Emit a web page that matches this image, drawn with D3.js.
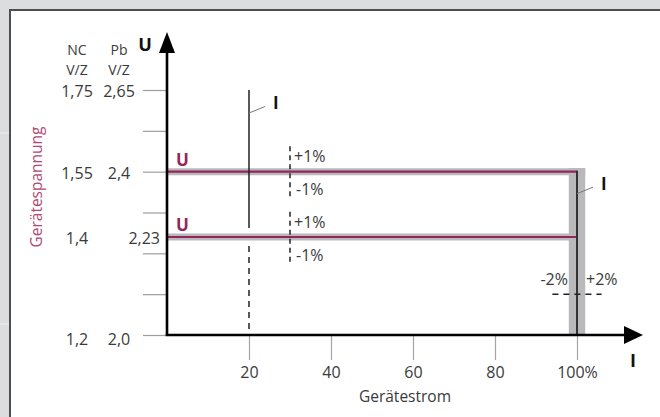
<!DOCTYPE html>
<html>
<head>
<meta charset="utf-8">
<script src="https://cdn.jsdelivr.net/npm/d3@7"></script>
<style>
  html, body { margin: 0; padding: 0; background: #dcdddf; }
  svg { display: block; }
  text { font-family: "Open Sans", "Noto Sans", sans-serif; }
</style>
</head>
<body>
<svg id="chart" width="660" height="417"></svg>
<script>
// ---------- data ----------
const xTicks = [20, 40, 60, 80, 100];
const xTickLabels = ["20", "40", "60", "80", "100%"];
const yLevels = [0, 1, 2, 3, 4, 5, 6];          // voltage tick rows
const ncLabels = ["1,2", "1,4", "1,55", "1,75"];  // NC  V/Z
const pbLabels = ["2,0", "2,23", "2,4", "2,65"];  // Pb  V/Z
const labelLevels = [0, 2.4, 4, 6];
const uLevels = [4, 2.4];                         // two charging voltages U
const uTolPlus = ["+1%", "+1%"];
const uTolMinus = ["-1%", "-1%"];
const uTolSpan = 0.62;                            // level span of ±1% marker
const uTolX = 30;                                 // % current where ±1% marker sits
const iRated = 100;                               // rated current
const iTolerance = 2;                             // ±2 %
const iTolLevel = 1;
const iTolSpan = [94, 106];
const iLine = { x: 20, solidTop: 6, solidBottom: 2.62, dashTop: 2.18 };

// ---------- setup ----------
const W = 660, H = 417;
const svg = d3.select("#chart");
const x = d3.scaleLinear().domain([0, 100]).range([167, 577]);
const y = d3.scaleLinear().domain([0, 6]).range([335, 90]);
const textCol = "#3a3a3a";
const crimson = "#93265a";
const band = "#b9b9bc";

// frame
svg.append("rect").attr("x", 0).attr("y", 0).attr("width", W).attr("height", H).attr("fill", "#dcdddf");
svg.append("line").attr("x1", 0).attr("x2", 10).attr("y1", 133).attr("y2", 133).attr("stroke", "#eeeeef").attr("stroke-width", 1);
svg.append("line").attr("x1", 0).attr("x2", 10).attr("y1", 324).attr("y2", 324).attr("stroke", "#eeeeef").attr("stroke-width", 1);
svg.append("rect").attr("x", 10).attr("y", 10).attr("width", W - 10).attr("height", H - 10).attr("fill", "#ffffff");
svg.append("path").attr("d", `M10,${H}V10H${W}`).attr("fill", "none").attr("stroke", "#4d4d4f").attr("stroke-width", 2);

const g = svg.append("g");

// y ticks (gray, to the left of axis)
const yAxis = d3.axisLeft(y).tickValues(yLevels).tickSizeInner(24).tickSizeOuter(0).tickFormat("");
const yg = g.append("g").attr("transform", `translate(${x(0)},0)`).call(yAxis);
yg.select(".domain").remove();
yg.selectAll(".tick line").attr("stroke", "#9d9d9d").attr("stroke-width", 1.2);

// x ticks (gray, below axis)
const xAxis = d3.axisBottom(x).tickValues(xTicks).tickSizeInner(25).tickSizeOuter(0)
  .tickFormat((d, i) => xTickLabels[i]);
const xg = g.append("g").attr("transform", `translate(0,${y(0)})`).call(xAxis);
xg.select(".domain").remove();
xg.selectAll(".tick line").attr("stroke", "#a5a5a5").attr("stroke-width", 1.2);
xg.selectAll(".tick text").attr("y", 32).attr("dy", "0.71em")
  .attr("fill", textCol).style("font-size", "16px").style("font-family", '"Open Sans", sans-serif');

// vertical tolerance band ±2% around rated current
g.append("rect")
  .attr("x", x(iRated - iTolerance)).attr("width", x(iRated + iTolerance) - x(iRated - iTolerance))
  .attr("y", y(uLevels[0]) - 3.5).attr("height", y(0) - y(uLevels[0]) + 3.5)
  .attr("fill", band);

// horizontal U lines: gray band + crimson core
uLevels.forEach((u, i) => {
  g.append("line").attr("x1", x(0)).attr("x2", x(iRated + (i === 0 ? iTolerance : 0)))
    .attr("y1", y(u)).attr("y2", y(u)).attr("stroke", band).attr("stroke-width", 7);
});
uLevels.forEach(u => {
  g.append("line").attr("x1", x(0)).attr("x2", x(iRated))
    .attr("y1", y(u)).attr("y2", y(u)).attr("stroke", crimson).attr("stroke-width", 2.2);
  g.append("text").attr("x", x(0) + 9).attr("y", y(u) - 6)
    .attr("fill", crimson).style("font-size", "17px").style("font-weight", "bold").text("U");
});

// vertical rated-current line
g.append("line").attr("x1", x(iRated)).attr("x2", x(iRated))
  .attr("y1", y(uLevels[0]) - 1).attr("y2", y(0))
  .attr("stroke", "#333336").attr("stroke-width", 2);

// ±2% dashed marker
g.append("line").attr("x1", x(iTolSpan[0])).attr("x2", x(iTolSpan[1]))
  .attr("y1", y(iTolLevel)).attr("y2", y(iTolLevel))
  .attr("stroke", "#222").attr("stroke-width", 1.5).attr("stroke-dasharray", "6,5");
g.append("text").attr("x", x(iRated) - 9).attr("y", y(iTolLevel) - 15).attr("dy", "0.35em")
  .attr("text-anchor", "end").attr("fill", textCol).style("font-size", "16px").text("-2%");
g.append("text").attr("x", x(iRated) + 9).attr("y", y(iTolLevel) - 15).attr("dy", "0.35em")
  .attr("text-anchor", "start").attr("fill", textCol).style("font-size", "16px").text("+2%");

// ±1% dashed markers
uLevels.forEach((u, i) => {
  g.append("line").attr("x1", x(uTolX)).attr("x2", x(uTolX))
    .attr("y1", y(u + uTolSpan)).attr("y2", y(u - uTolSpan))
    .attr("stroke", "#222").attr("stroke-width", 1.5).attr("stroke-dasharray", "5,4");
  g.append("text").attr("x", x(uTolX) + 4).attr("y", y(u) - 15).attr("dy", "0.35em")
    .attr("fill", textCol).style("font-size", "16px").text(uTolPlus[i]);
  g.append("text").attr("x", x(uTolX) + 6).attr("y", y(u) + 18).attr("dy", "0.35em")
    .attr("fill", textCol).style("font-size", "16px").text(uTolMinus[i]);
});

// 20% current line
g.append("line").attr("x1", x(iLine.x)).attr("x2", x(iLine.x))
  .attr("y1", y(iLine.solidTop)).attr("y2", y(iLine.solidBottom))
  .attr("stroke", "#222").attr("stroke-width", 1.5);
g.append("line").attr("x1", x(iLine.x)).attr("x2", x(iLine.x))
  .attr("y1", y(iLine.dashTop)).attr("y2", y(0))
  .attr("stroke", "#222").attr("stroke-width", 1.5).attr("stroke-dasharray", "6,5");

// "I" callouts with leader lines
function callout(px, py) {
  g.append("line").attr("x1", px).attr("y1", py).attr("x2", px + 16).attr("y2", py - 6.5)
    .attr("stroke", "#777").attr("stroke-width", 1);
  g.append("text").attr("x", px + 24).attr("y", py - 10).attr("dy", "0.35em")
    .attr("fill", "#111").style("font-size", "17px").style("font-weight", "bold").text("I");
}
callout(x(iLine.x), y(iLine.solidTop) + 23);
callout(x(iRated), y(uLevels[0]) + 22);

// main axes (black, with arrowheads)
const ax = g.append("g");
ax.append("path").attr("d", `M${x(0)},${y(0)}V48`).attr("stroke", "#000").attr("stroke-width", 2.6).attr("fill", "none");
ax.append("path").attr("d", `M${x(0) - 1.3},${y(0)}H628`).attr("stroke", "#000").attr("stroke-width", 2.6).attr("fill", "none");
ax.append("path").attr("d", `M${x(0)},32L${x(0) + 8},53L${x(0) - 8},53Z`).attr("fill", "#000");
ax.append("path").attr("d", `M643,${y(0)}L624,${y(0) - 9}L624,${y(0) + 9}Z`).attr("fill", "#000");

// axis letters
g.append("text").attr("x", 145).attr("y", 45).attr("dy", "0.35em").attr("text-anchor", "middle")
  .attr("fill", "#111").style("font-size", "18px").style("font-weight", "bold").text("U");
g.append("text").attr("x", 633).attr("y", 361).attr("dy", "0.35em").attr("text-anchor", "middle")
  .attr("fill", "#111").style("font-size", "18px").style("font-weight", "bold").text("I");

// voltage column headers and labels
const ncX = 77, pbX = 119;
[["NC", "Pb", 50.5], ["V/Z", "V/Z", 70]].forEach(([a, b, yy]) => {
  g.append("text").attr("x", ncX).attr("y", yy).attr("dy", "0.35em").attr("text-anchor", "middle")
    .attr("fill", textCol).style("font-size", "14px").text(a);
  g.append("text").attr("x", pbX).attr("y", yy).attr("dy", "0.35em").attr("text-anchor", "middle")
    .attr("fill", textCol).style("font-size", "14px").text(b);
});
labelLevels.forEach((lv, i) => {
  const yy = y(lv) + (lv === 0 ? 4 : (lv === 4 ? 2 : 1));
  g.append("text").attr("x", ncX).attr("y", yy).attr("dy", "0.35em").attr("text-anchor", "middle")
    .attr("fill", textCol).style("font-size", "16px").text(ncLabels[i]);
  const isInner = !Number.isInteger(lv);
  g.append("text").attr("x", isInner ? 160 : pbX).attr("y", yy).attr("dy", "0.35em")
    .attr("text-anchor", isInner ? "end" : "middle")
    .attr("fill", textCol).style("font-size", "16px").text(pbLabels[i]);
});

// axis titles
g.append("text").attr("transform", `translate(37,187) rotate(-90)`).attr("dy", "0.35em")
  .attr("text-anchor", "middle").attr("fill", "#b04a74").style("font-size", "15.5px").text("Gerätespannung");
g.append("text").attr("x", 405).attr("y", 397).attr("dy", "0.35em").attr("text-anchor", "middle")
  .attr("fill", textCol).style("font-size", "15.5px").text("Gerätestrom");
</script>
</body>
</html>
